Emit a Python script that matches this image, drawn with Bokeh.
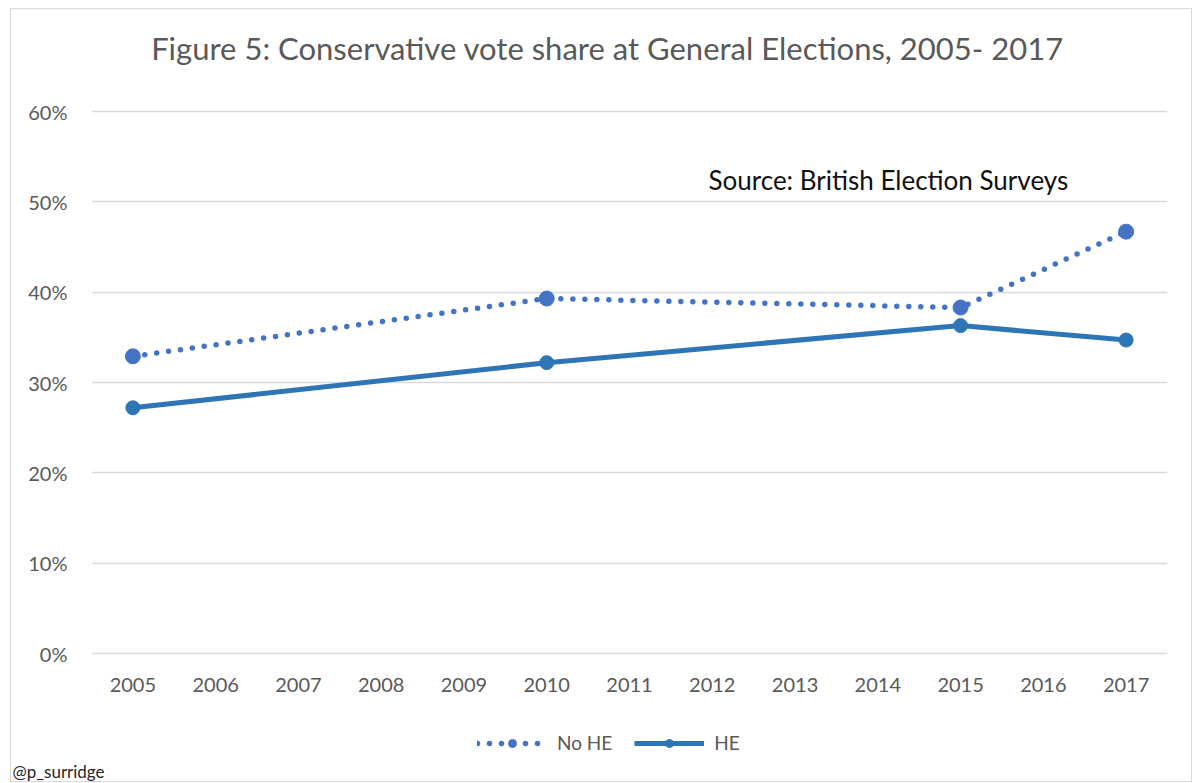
from bokeh.plotting import figure
from bokeh.models import Legend, LegendItem, Label, NumeralTickFormatter, FixedTicker, Range1d, Title
from bokeh.embed import file_html
from bokeh.resources import INLINE

years = [str(y) for y in range(2005, 2018)]
point_years = ["2005", "2010", "2015", "2017"]
no_he = [0.329, 0.393, 0.383, 0.467]
he = [0.272, 0.322, 0.363, 0.347]
y_ticks = [0, 0.1, 0.2, 0.3, 0.4, 0.5, 0.6]

FONT = "Lato"
GREY = "#595959"

p = figure(width=1182, height=774, x_range=years, y_range=Range1d(-0.1151, 0.7085),
           output_backend="svg", toolbar_location=None,
           min_border_left=80, min_border_right=26, min_border_top=4, min_border_bottom=26)
p.styles = {"margin-left": "10px", "margin-top": "8px", "border": "1px solid #d9d9d9"}
p.outline_line_color = None
p.background_fill_color = "white"
p.border_fill_color = "white"

p.xgrid.grid_line_color = None
p.ygrid.grid_line_color = "#d9d9d9"
p.ygrid.grid_line_width = 1.5
p.yaxis.ticker = FixedTicker(ticks=y_ticks)
p.yaxis.formatter = NumeralTickFormatter(format="0%")
p.xaxis.fixed_location = 0
for ax in (p.xaxis[0], p.yaxis[0]):
    ax.axis_line_color = None
    ax.major_tick_line_color = None
    ax.minor_tick_line_color = None
    ax.major_label_text_font = FONT
    ax.major_label_text_font_size = "20px"
    ax.major_label_text_color = GREY
p.yaxis.major_label_standoff = 18
p.xaxis.major_label_standoff = 18

c_nohe = "#4472C4"
c_he = "#2E75B6"

l1 = p.line(point_years, no_he, line_color=c_nohe, line_width=5.5, line_dash="0 12", line_cap="round")
s1 = p.scatter(point_years, no_he, size=15, color=c_nohe)
l2 = p.line(point_years, he, line_color=c_he, line_width=5, line_join="round")
s2 = p.scatter(point_years, he, size=14, color=c_he)

legend = Legend(items=[LegendItem(label="No HE", renderers=[l1, s1]),
                       LegendItem(label="HE", renderers=[l2, s2])],
                orientation="horizontal", location=(386, 3),
                label_text_font=FONT, label_text_font_size="19px", label_text_color=GREY,
                glyph_width=70, glyph_height=20, spacing=22, label_standoff=10,
                border_line_color=None, background_fill_alpha=0, padding=4, margin=0)
p.add_layout(legend, "center")

p.add_layout(Label(x=516, y=710, x_units="screen", y_units="screen",
                   text="Figure 5: Conservative vote share at General Elections, 2005- 2017",
                   text_font=FONT, text_font_size="31px", text_color=GREY,
                   text_align="center", text_baseline="middle"))
p.add_layout(Label(x=617, y=578, x_units="screen", y_units="screen",
                   text="Source: British Election Surveys", text_font=FONT,
                   text_font_size="26px", text_color="#111111", text_baseline="middle"))

credit = Title(text="@p_surridge", align="left", offset=-79, standoff=2,
               text_font=FONT, text_font_size="17px", text_font_style="normal",
               text_color="#262626")
p.add_layout(credit, "below")

open("out.html", "w").write(file_html(p, INLINE))
